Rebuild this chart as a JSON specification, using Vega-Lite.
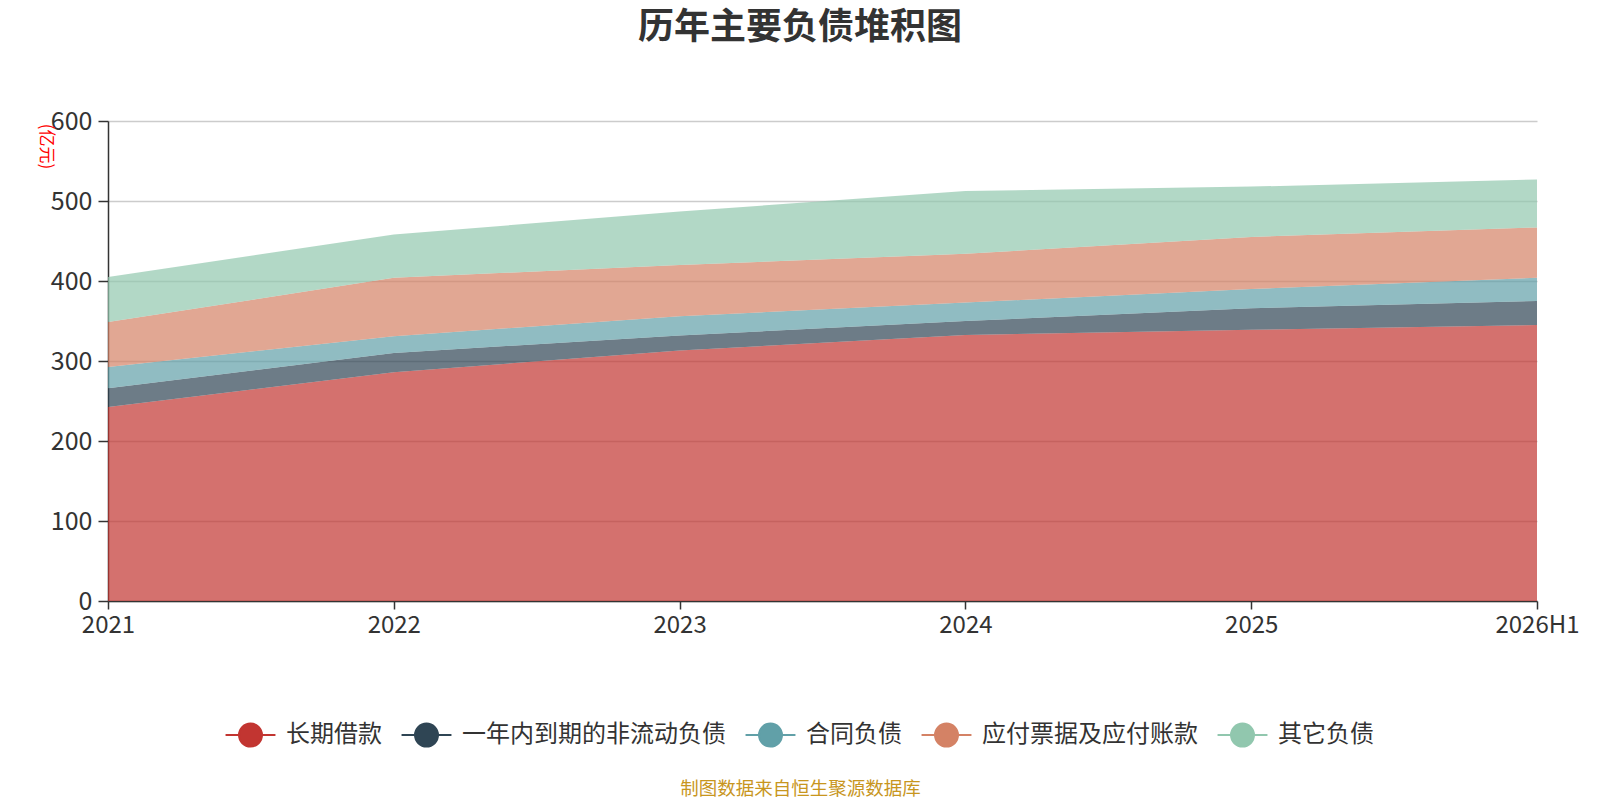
{
  "$schema": "https://vega.github.io/schema/vega-lite/v6.json",
  "autosize": {"type": "none"},
  "padding": {"left": 108, "top": 121, "right": 63, "bottom": 199},
  "width": 1429,
  "height": 480,
  "background": "white",
  "title": {
    "text": "历年主要负债堆积图",
    "fontSize": 36,
    "fontWeight": "bold",
    "color": "#333333",
    "anchor": "middle",
    "frame": "group",
    "dx": -22.5,
    "baseline": "bottom",
    "offset": 26
  },
  "data": {
    "values": [
      {"year": "2021", "name": "长期借款", "k": 1, "value": 242.5},
      {"year": "2021", "name": "一年内到期的非流动负债", "k": 2, "value": 23.3},
      {"year": "2021", "name": "合同负债", "k": 3, "value": 26.7},
      {"year": "2021", "name": "应付票据及应付账款", "k": 4, "value": 56.2},
      {"year": "2021", "name": "其它负债", "k": 5, "value": 56.3},
      {"year": "2022", "name": "长期借款", "k": 1, "value": 286},
      {"year": "2022", "name": "一年内到期的非流动负债", "k": 2, "value": 24},
      {"year": "2022", "name": "合同负债", "k": 3, "value": 21},
      {"year": "2022", "name": "应付票据及应付账款", "k": 4, "value": 73},
      {"year": "2022", "name": "其它负债", "k": 5, "value": 54},
      {"year": "2023", "name": "长期借款", "k": 1, "value": 313},
      {"year": "2023", "name": "一年内到期的非流动负债", "k": 2, "value": 19},
      {"year": "2023", "name": "合同负债", "k": 3, "value": 24},
      {"year": "2023", "name": "应付票据及应付账款", "k": 4, "value": 64},
      {"year": "2023", "name": "其它负债", "k": 5, "value": 67},
      {"year": "2024", "name": "长期借款", "k": 1, "value": 332.5},
      {"year": "2024", "name": "一年内到期的非流动负债", "k": 2, "value": 17.5},
      {"year": "2024", "name": "合同负债", "k": 3, "value": 23},
      {"year": "2024", "name": "应付票据及应付账款", "k": 4, "value": 61},
      {"year": "2024", "name": "其它负债", "k": 5, "value": 78.5},
      {"year": "2025", "name": "长期借款", "k": 1, "value": 339},
      {"year": "2025", "name": "一年内到期的非流动负债", "k": 2, "value": 27},
      {"year": "2025", "name": "合同负债", "k": 3, "value": 24},
      {"year": "2025", "name": "应付票据及应付账款", "k": 4, "value": 65},
      {"year": "2025", "name": "其它负债", "k": 5, "value": 63},
      {"year": "2026H1", "name": "长期借款", "k": 1, "value": 345},
      {"year": "2026H1", "name": "一年内到期的非流动负债", "k": 2, "value": 30},
      {"year": "2026H1", "name": "合同负债", "k": 3, "value": 29},
      {"year": "2026H1", "name": "应付票据及应付账款", "k": 4, "value": 63},
      {"year": "2026H1", "name": "其它负债", "k": 5, "value": 60}
    ]
  },
  "mark": {"type": "area", "opacity": 0.7, "interpolate": "linear"},
  "encoding": {
    "x": {
      "field": "year",
      "type": "ordinal",
      "sort": ["2021", "2022", "2023", "2024", "2025", "2026H1"],
      "scale": {"type": "point", "padding": 0},
      "axis": {
        "labelAngle": 0,
        "labelFontSize": 24,
        "labelColor": "#333333",
        "labelPadding": 4,
        "tickSize": 8,
        "tickColor": "#333333",
        "tickWidth": 1.5,
        "domainColor": "#333333",
        "domainWidth": 1.5,
        "grid": false,
        "title": "制图数据来自恒生聚源数据库",
        "titleFontSize": 18.5,
        "titleFontWeight": "normal",
        "titleColor": "#c8961e",
        "titleX": 692,
        "titleY": 187,
        "titleAlign": "center",
        "titleBaseline": "middle"
      }
    },
    "y": {
      "field": "value",
      "type": "quantitative",
      "stack": "zero",
      "scale": {"domain": [0, 600], "nice": false},
      "axis": {
        "values": [0, 100, 200, 300, 400, 500, 600],
        "labelFontSize": 25,
        "labelColor": "#333333",
        "labelPadding": 6,
        "tickSize": 10,
        "tickColor": "#333333",
        "tickWidth": 1.5,
        "domainColor": "#333333",
        "domainWidth": 1.5,
        "grid": true,
        "gridColor": "#cccccc",
        "gridWidth": 1.3,
        "title": "(亿元)",
        "titleColor": "#ff0000",
        "titleFontSize": 17,
        "titleFontWeight": "normal",
        "titleAngle": 90,
        "titleX": -63,
        "titleY": 25,
        "titleAlign": "center",
        "titleBaseline": "middle"
      }
    },
    "color": {
      "field": "name",
      "type": "nominal",
      "scale": {
        "domain": ["长期借款", "一年内到期的非流动负债", "合同负债", "应付票据及应付账款", "其它负债"],
        "range": ["#c23531", "#2f4554", "#61a0a8", "#d48265", "#91c7ae"]
      },
      "legend": {
        "orient": "none",
        "legendX": 130,
        "legendY": 601.6,
        "direction": "horizontal",
        "title": null,
        "padding": 0,
        "symbolType": "M-2.17,0L-1,0M1,0L2.17,0M1,0A1,1,0,1,1,-1,0A1,1,0,1,1,1,0Z",
        "symbolSize": 529,
        "symbolOpacity": 1,
        "symbolStrokeWidth": 2,
        "labelFontSize": 24,
        "labelColor": "#333333",
        "labelOffset": 23,
        "labelLimit": 400,
        "columnPadding": 15,
        "encode": {
          "symbols": {
            "update": {
              "stroke": {"scale": "color", "field": "value"},
              "strokeWidth": {"value": 2},
              "opacity": {"value": 1}
            }
          }
        }
      }
    },
    "order": {"field": "k", "type": "quantitative", "sort": "ascending"}
  },
  "config": {
    "font": "Noto Sans CJK SC",
    "view": {"stroke": null}
  }
}
